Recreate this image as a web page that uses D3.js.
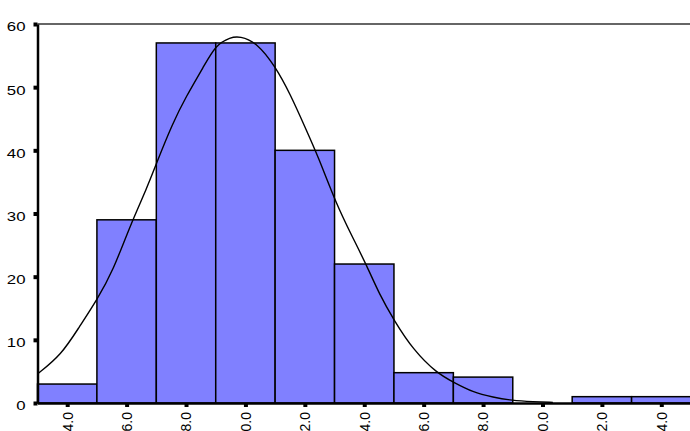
<!DOCTYPE html>
<html lang="en">
<head>
<meta charset="UTF-8">
<title>Histogram</title>
<script src="https://cdn.jsdelivr.net/npm/d3@7"></script>
<style>
	body { margin: 0; background: #fff; overflow: hidden; }
	text { font-family: Arial, "Liberation Sans", sans-serif; fill: #000; }
	.bar { fill: #8080ff; stroke: #000; stroke-width: 1.5; }
</style>
</head>
<body>
<script>
	// bin centres (width 2) and counts
	var bins = [14, 16, 18, 20, 22, 24, 26, 28, 30, 32, 34];
	var counts = [3, 29, 57, 57, 40, 22, 4.8, 4.1, 0, 1, 1];
	var tickLabels = ["14.0", "16.0", "18.0", "20.0", "22.0", "24.0", "26.0", "28.0", "30.0", "32.0", "34.0"];
	var yTicks = [0, 10, 20, 30, 40, 50, 60];

	// fitted curve
	var curveX = [13.0, 13.8, 14.4, 15.0, 15.55, 16.1, 16.7, 17.0, 17.55, 18.0, 18.6, 19.0, 19.5, 19.8,
		20.4, 21.0, 21.5, 22.05, 22.45, 23.05, 23.6, 24.1, 24.5, 25.0, 25.65, 26.45, 27.0, 27.65, 28.35, 28.95, 29.7, 30.35];
	var curveY = [4.6, 7.6, 12.0, 16.3, 21.0, 27.9, 34.2, 37.9, 44.3, 48.5, 53.3, 56.7, 57.9, 58.1,
		57.0, 53.3, 49.0, 43.2, 39.0, 31.6, 26.3, 21.6, 17.3, 13.1, 8.4, 4.7, 3.3, 1.7, 0.9, 0.4, 0.2, 0.1];

	var W = 690, H = 431;
	var margin = {top: 24, right: -1, bottom: 28, left: 37.5};
	var width = W - margin.left - margin.right;
	var height = H - margin.top - margin.bottom;

	var svg = d3.select('body').append('svg')
		.attr('width', W)
		.attr('height', H);

	var g = svg.append('g')
		.attr('transform', 'translate(' + margin.left + ',' + margin.top + ')');

	var x = d3.scaleLinear().domain([13, 35]).range([0, width]);
	var y = d3.scaleLinear().domain([0, 60]).range([height, 0]);

	// top frame line
	g.append('line')
		.attr('x1', 0).attr('x2', width)
		.attr('y1', 0).attr('y2', 0)
		.attr('stroke', '#333').attr('stroke-width', 1.5);

	g.selectAll('.bar')
		.data(bins)
		.enter().append('rect')
		.attr('class', 'bar')
		.attr('x', function (d) { return x(d - 1); })
		.attr('width', function (d) { return x(d + 1) - x(d - 1); })
		.attr('y', function (d, i) { return y(counts[i]); })
		.attr('height', function (d, i) { return height - y(counts[i]); });

	var pts = curveX.map(function (v, i) { return [v, curveY[i]]; });
	g.append('path')
		.datum(pts)
		.attr('fill', 'none')
		.attr('stroke', '#000')
		.attr('stroke-width', 1.4)
		.attr('d', d3.line()
			.x(function (d) { return x(d[0]); })
			.y(function (d) { return y(d[1]); })
			.curve(d3.curveBasis));

	var ax = g.append('g')
		.attr('transform', 'translate(0,' + height + ')')
		.call(d3.axisBottom(x).tickValues(bins)
			.tickFormat(function (d, i) { return tickLabels[i]; })
			.tickSize(4).tickSizeOuter(0));
	ax.select('.domain').attr('stroke', '#000').attr('stroke-width', 2.5);
	ax.selectAll('.tick line').attr('stroke', '#000').attr('stroke-width', 4);
	ax.selectAll('.tick text')
		.style('font-size', '14px')
		.attr('text-anchor', 'end')
		.attr('dy', '0.35em')
		.attr('x', 0).attr('y', 0)
		.attr('transform', 'translate(0,9) rotate(-90)');

	var ay = g.append('g')
		.call(d3.axisLeft(y).tickValues(yTicks).tickSize(4).tickSizeOuter(0));
	ay.select('.domain').attr('stroke', '#000').attr('stroke-width', 2.5);
	ay.selectAll('.tick line').attr('stroke', '#000').attr('stroke-width', 4);
	ay.selectAll('.tick text')
		.style('font-size', '12px')
		.attr('x', 0).attr('dy', '0.32em')
		.attr('transform', 'translate(-12,3) scale(1.4,1)');
</script>
</body>
</html>
